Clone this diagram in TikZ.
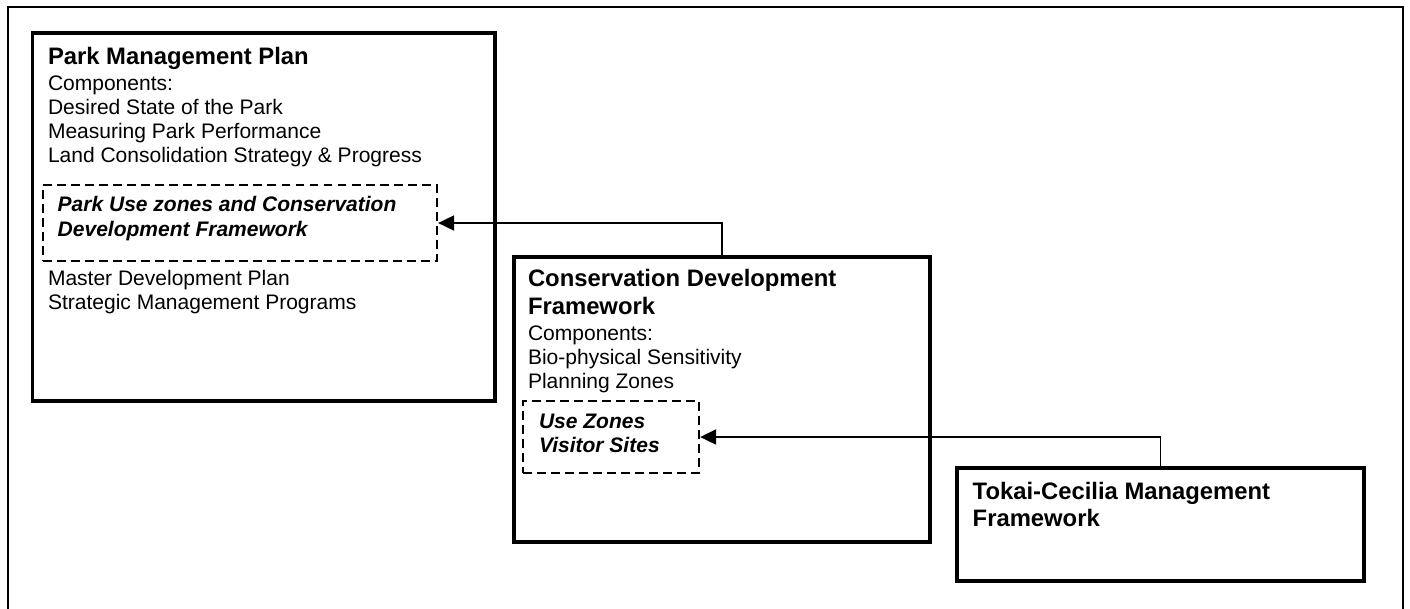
\documentclass[tikz,border=0pt]{standalone}
\usepackage{fontspec}
\setmainfont{Liberation Sans}
\usetikzlibrary{fit,arrows.meta}
\newcommand\txtlines[1]{\parbox[t]{10cm}{\raggedright #1}}
\tikzset{
  frame/.style={draw=black, line width=1.3pt},
  mainbox/.style={draw=black, line width=2.1pt, inner sep=0pt, fill=none},
  dashbox/.style={draw=black, line width=1.3pt, dash pattern=on 5.1pt off 2.9pt, inner sep=0pt},
  conn/.style={draw=black, line width=0.9pt, -{Triangle[length=9.1pt,width=8.6pt]}},
  txt/.style={anchor=base west, inner sep=0pt, outer sep=0pt},
  titlefont/.style={font=\fontsize{13.6}{15.8}\selectfont\bfseries},
  bodyfont/.style={font=\fontsize{12}{13.87}\selectfont},
  itfont/.style={font=\fontsize{12}{13.87}\selectfont\bfseries\itshape},
}
\begin{document}
\begin{tikzpicture}[x=0.5709pt,y=-0.5709pt]
\useasboundingbox (0,0) rectangle (1410,608);
% outer frame (bottom edge not visible)
\draw[frame] (8,620) -- (8,7) -- (1403,7) -- (1403,620);

% Park Management Plan
\node[mainbox, fit={(32.5,33) (495,401)}] (pmp) {};
\node[txt, titlefont] (pmpt) at (48,64) {Park Management Plan};
\node[txt, bodyfont] (pmpb) at (48,90) {\txtlines{Components:\\Desired State of the Park\\Measuring Park Performance\\Land Consolidation Strategy \& Progress}};
\node[dashbox, fit={(43,185) (437,261)}] (pud) {};
\node[txt, itfont] (pudt) at (57.7,211.7) {\txtlines{Park Use zones and Conservation\\Development Framework}};
\node[txt, bodyfont] (pmpc) at (48,285) {\txtlines{Master Development Plan\\Strategic Management Programs}};

% Conservation Development Framework
\node[mainbox, fit={(514,257) (930,542)}] (cdf) {};
\node[txt, titlefont] (cdft) at (528,286.7) {\txtlines{Conservation Development\\Framework}};
\node[txt, bodyfont] (cdfb) at (528,340) {\txtlines{Components:\\Bio-physical Sensitivity\\Planning Zones}};
\node[dashbox, fit={(523,401) (699,473)}] (uz) {};
\node[txt, itfont] (uzt) at (539,428.3) {\txtlines{Use Zones\\Visitor Sites}};

% Tokai-Cecilia Management Framework
\node[mainbox, fit={(957,468) (1364,581)}] (tcm) {};
\node[txt, titlefont] (tcmt) at (972.7,499) {\txtlines{Tokai-Cecilia Management\\Framework}};

% connectors
\draw[conn] (cdf.north) |- (pud.east);
\draw[conn] (tcm.north) |- (uz.east);
\end{tikzpicture}
\end{document}
